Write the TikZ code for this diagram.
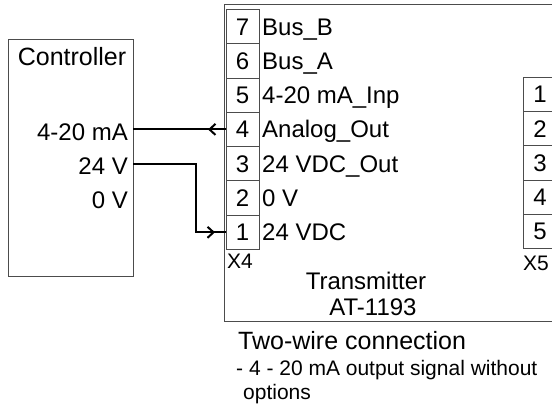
\documentclass[tikz,border=0pt]{standalone}
\usepackage{fontspec}
\setmainfont{Liberation Sans}
\usetikzlibrary{positioning,arrows.meta,decorations.markings}

\begin{document}
\begin{tikzpicture}[x=1pt, y=-1pt, >={Straight Barb[length=6pt,width=11pt]},
    font=\fontsize{24}{28}\selectfont]

    % Define block styles
    \tikzstyle{box} = [draw=black!70, line width=0.8pt, inner sep=0pt, outer sep=0pt, anchor=north west]
    \tikzstyle{pin} = [draw=black!70, line width=0.8pt, minimum width=33pt, minimum height=34.3pt, inner sep=0pt, outer sep=0pt, text height=17pt, text depth=0pt]
    \tikzstyle{pinlabel} = [inner sep=0pt, anchor=west, text height=17pt, text depth=0pt]
    \tikzstyle{small} = [inner sep=0pt, anchor=base west, font=\fontsize{21}{24}\selectfont]
    \tikzstyle{wire} = [line width=2pt, postaction={decorate}]

    \clip (0,0) rectangle (552,413);

    % Controller
    \node[box, minimum width=125pt, minimum height=237pt] (ctrl) at (8,39) {};
    \node[anchor=base, inner sep=0pt, font=\fontsize{25}{28}\selectfont] (ctrltitle) at (72,65) {Controller};
    \node[pinlabel, anchor=east] (ctrlma) at (128,132) {4-20 mA};
    \node[pinlabel, anchor=east] (ctrl24) at (128,166) {24 V};
    \node[pinlabel, anchor=east] (ctrl0) at (128,200) {0 V};

    % Transmitter
    \node[box, minimum width=340pt, minimum height=317pt] (tx) at (224,4) {};
    \node[anchor=base, inner sep=0pt] (txname) at (366,289) {Transmitter};
    \node[anchor=base, inner sep=0pt] (txtype) at (373,315) {AT-1193};

    % Terminal block X4
    \node[pin] (x4-7) at (242.5,26.5) {7};
    \node[pin, below=0pt of x4-7] (x4-6) {6};
    \node[pin, below=0pt of x4-6] (x4-5) {5};
    \node[pin, below=0pt of x4-5] (x4-4) {4};
    \node[pin, below=0pt of x4-4] (x4-3) {3};
    \node[pin, below=0pt of x4-3] (x4-2) {2};
    \node[pin, below=0pt of x4-2] (x4-1) {1};
    \node[small] (x4) at (227,268) {X4};

    \node[pinlabel, right=3pt of x4-7] (busb) {Bus\_B};
    \node[pinlabel, right=3pt of x4-6] (busa) {Bus\_A};
    \node[pinlabel, right=3pt of x4-5] (mainp) {4-20 mA\_Inp};
    \node[pinlabel, right=3pt of x4-4] (aout) {Analog\_Out};
    \node[pinlabel, right=3pt of x4-3] (vout) {24 VDC\_Out};
    \node[pinlabel, right=3pt of x4-2] (gnd) {0 V};
    \node[pinlabel, right=3pt of x4-1] (vin) {24 VDC};

    % Terminal block X5
    \node[pin, minimum width=34pt] (x5-1) at (540,94.2) {1};
    \node[pin, minimum width=34pt, below=0pt of x5-1] (x5-2) {2};
    \node[pin, minimum width=34pt, below=0pt of x5-2] (x5-3) {3};
    \node[pin, minimum width=34pt, below=0pt of x5-3] (x5-4) {4};
    \node[pin, minimum width=34pt, below=0pt of x5-4] (x5-5) {5};
    \node[small] (x5) at (523,270) {X5};

    % Wiring
    \draw[wire, decoration={markings, mark=at position 18pt with {\arrow{>}}}]
        (x4-4.west) -- (x4-4.west -| ctrl.east);
    \draw[wire, decoration={markings, mark=at position -11pt with {\arrow{>}}}]
        (x4-3.west -| ctrl.east) -- ++(63,0) |- (x4-1.west);

    % Notes
    \node[anchor=base west, inner sep=0pt, font=\fontsize{25}{28}\selectfont] (note) at (238,349) {Two-wire connection};
    \node[small] (note1) at (236,375) {- 4 - 20 mA output signal without};
    \node[small] (note2) at (243,399) {options};

\end{tikzpicture}
\end{document}
